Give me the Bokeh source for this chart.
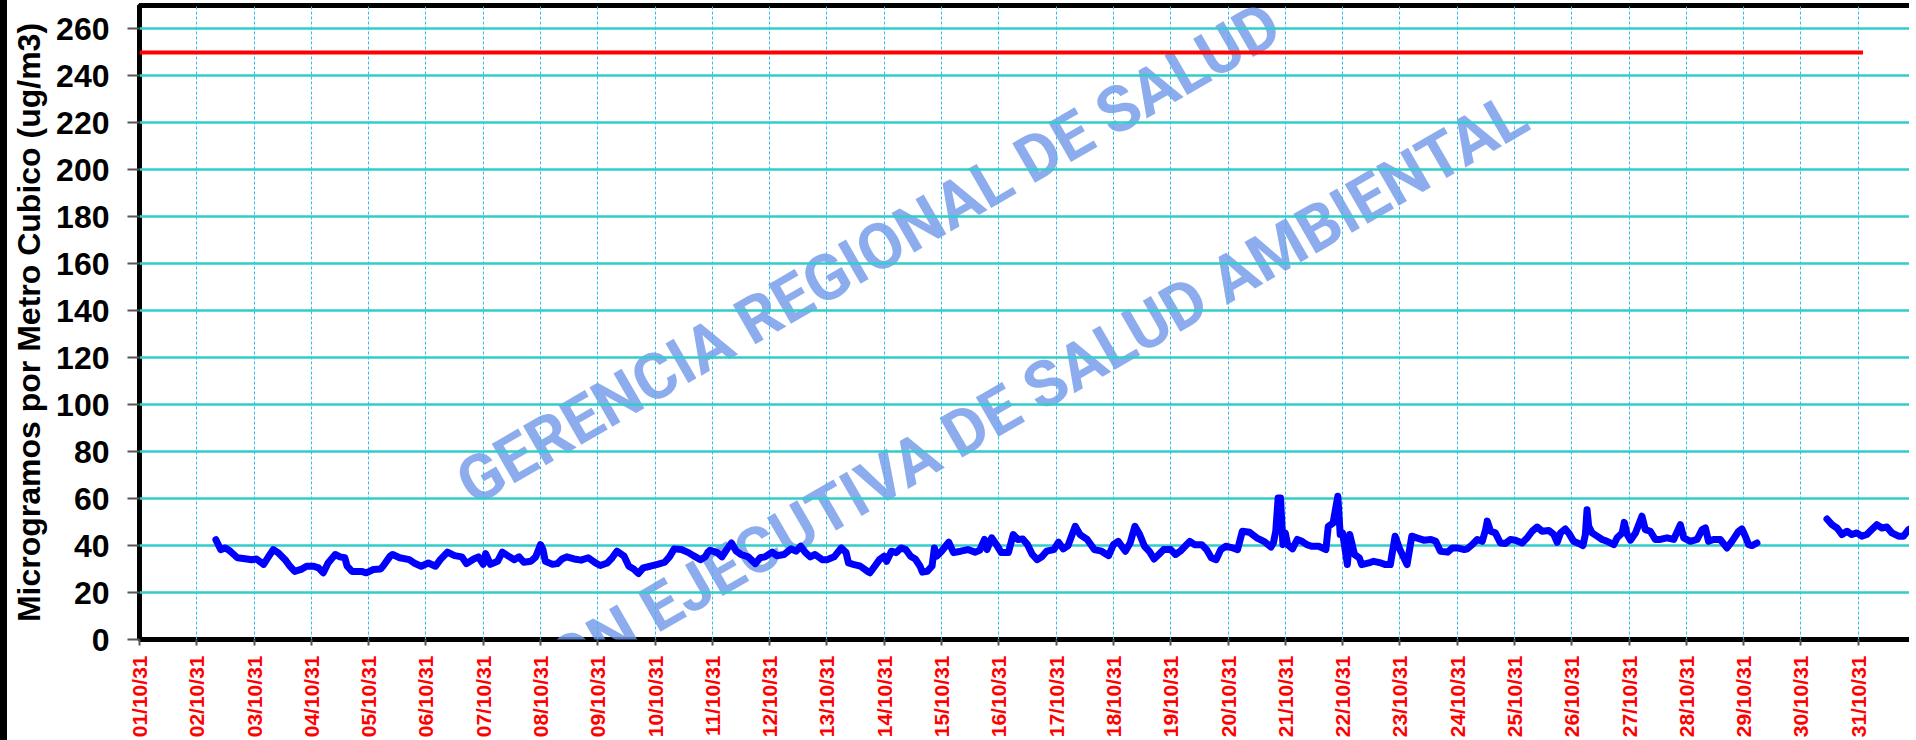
import math
from bokeh.plotting import figure
from bokeh.models import FixedTicker, Range1d, Label
from bokeh.embed import file_html
from bokeh.resources import INLINE

# ---------------- data ----------------
day_labels = ["%02d/10/31" % d for d in range(1, 32)]
y_ticks = [0, 20, 40, 60, 80, 100, 120, 140, 160, 180, 200, 220, 240, 260]
limit_value = 250
limit_hours = [0, 722]

# hours since 01/10/31 00:00, first segment
seg1_hours = [
    32, 34, 36, 38, 41, 45, 47, 49, 52, 54, 56, 58, 61, 63, 65, 68, 70, 73, 75, 77,
    79, 82, 84, 86, 87, 89, 93, 95, 98, 101, 102, 105, 106, 109, 113, 115, 118, 121,
    124, 126, 129, 132, 135, 137, 140, 142, 144, 145, 147, 150, 152, 155,
    157, 159, 161, 164, 166, 168, 169, 170, 173, 175, 177, 179, 182, 185, 188, 191,
    193, 196, 198, 200, 203, 205, 207, 209, 211, 214, 217, 220, 222, 224, 227, 230,
    232, 235, 237, 238, 239, 242, 244, 246, 248, 250, 252, 255, 258, 260, 262, 265,
    267, 270, 273, 275, 277, 279, 281, 283, 286,
    288, 291, 294, 296, 297, 299, 302, 305, 306, 308, 310, 312, 313, 315, 317, 319,
    321, 323, 325, 327, 328, 330, 332, 333, 334, 336, 339, 341, 344, 347, 350, 352,
    354, 355, 357, 359, 361, 364, 366, 368, 370, 372, 374, 376, 378, 380, 383, 385,
    387, 389, 392, 394, 397, 400, 403, 406, 408, 410, 413, 415, 417, 419,
    421, 423, 425, 427, 429, 432, 434, 436, 438, 440, 442, 445, 447, 449, 451, 453,
    455, 458, 460, 462, 465, 468, 471, 474, 475, 476, 477, 478, 479, 480, 481, 483,
    485, 487, 489, 491, 494, 497, 498, 500, 502, 503, 504, 506, 507, 509, 511, 512,
    515, 517, 520, 522, 524, 526, 528, 531, 533, 535, 538, 541, 543, 545, 548, 550,
    552, 555,
    556.2, 558.3, 560.4, 562.5, 563.9, 564.6, 566.0, 568.0, 570.1, 572.2, 574.3,
    576.4, 579.2, 581.3, 583.4, 585.5, 587.6, 590.4, 592.5, 593.9, 595.3, 597.3,
    598.7, 600.8, 602.9, 604.7, 605.7, 606.4, 607.1, 608.5, 610.6, 612.7, 614.8,
    617.6, 619.0, 621.1, 622.0, 623.2, 624.6, 626.7, 629.4, 630.8, 632.9, 635.0,
    637.1, 639.9, 642.7, 645.5, 646.9, 649.7, 652.5, 654.6, 656.0, 657.3, 659.4,
    662.2, 665.0, 667.1, 669.9, 671.3, 672.7, 674.1, 675.5, 677.6,
]
seg1_values = [
    42.5, 38.3, 39.0, 37.6, 34.8, 34.3, 34.0, 34.3, 32.0, 35.2, 38.3, 37.0, 34.0, 31.2, 29.0, 30.0, 31.2, 31.2, 30.5, 28.4,
    32.6, 36.2, 35.2, 34.8, 31.2, 29.0, 29.0, 28.4, 29.8, 30.0, 31.2, 35.5, 36.2, 34.8, 34.0, 32.6, 31.2, 32.6,
    31.2, 34.0, 37.2, 35.7, 35.2, 32.3, 34.3, 35.2, 32.0, 36.6, 32.0, 33.3, 37.2, 35.2,
    34.0, 35.2, 32.9, 33.3, 35.2, 40.4, 38.3, 33.3, 32.0, 32.3, 34.3, 35.2, 34.3, 33.8, 34.8, 32.6,
    31.5, 32.6, 34.8, 37.6, 35.5, 31.2, 30.0, 28.1, 30.5, 31.2, 32.0, 32.9, 35.2, 38.6, 38.3, 37.0,
    35.7, 34.0, 35.2, 37.0, 38.0, 37.0, 35.2, 38.3, 41.1, 37.6, 36.2, 35.2, 32.3, 34.8, 35.2, 37.2,
    35.7, 36.2, 38.6, 37.6, 39.7, 37.0, 35.2, 36.2, 34.0,
    34.0, 35.2, 39.0, 37.0, 32.6, 32.0, 31.2, 29.0, 28.4, 31.2, 34.0, 35.5, 33.3, 37.6, 37.0, 39.0,
    38.3, 35.5, 34.3, 31.2, 28.7, 29.0, 31.2, 39.0, 35.5, 37.6, 41.4, 37.0, 37.6, 38.3, 37.2, 38.0,
    42.6, 38.3, 43.3, 40.4, 37.0, 37.0, 44.7, 42.6, 42.8, 40.4, 36.2, 34.0, 35.2, 37.6, 38.3, 41.4,
    38.6, 40.0, 48.2, 44.7, 42.6, 38.3, 37.6, 35.7, 40.4, 41.8, 37.6, 41.1, 48.2, 44.7,
    39.7, 37.6, 34.3, 36.2, 38.3, 38.3, 36.2, 37.6, 39.7, 41.8, 40.4, 40.4, 38.3, 34.8, 34.0, 38.3,
    39.7, 39.0, 38.3, 46.1, 45.7, 43.3, 41.8, 39.4, 41.1, 46.1, 60.3, 60.3, 40.4, 45.4, 40.4, 38.6,
    42.6, 41.8, 40.4, 39.7, 39.7, 38.3, 48.2, 49.6, 61.0, 44.7, 45.4, 31.9, 44.7, 36.2, 34.8, 31.9,
    32.6, 33.3, 32.6, 31.9, 31.9, 44.0, 38.3, 31.9, 44.0, 43.3, 42.3, 42.6, 41.8, 37.6, 37.2, 39.0,
    39.0, 38.3,
    38.6, 40.4, 42.6, 41.8, 46.8, 50.4, 46.1, 45.4, 41.1, 40.9, 42.6,
    42.3, 41.1, 43.3, 46.1, 47.9, 46.1, 46.4, 44.7, 41.4, 45.4, 47.1,
    45.4, 41.8, 40.9, 40.0, 44.7, 55.3, 48.2, 45.4, 44.0, 42.6, 41.8,
    40.4, 43.3, 45.4, 49.9, 44.7, 42.3, 45.4, 52.5, 46.8, 46.1, 42.6,
    42.6, 43.3, 42.6, 48.9, 43.3, 41.8, 42.6, 46.8, 47.5, 41.8, 42.6,
    42.6, 39.0, 41.8, 46.1, 47.1, 44.0, 40.4, 40.0, 41.1,
]
# second segment (after the gap)
seg2_hours = [706.9, 709.0, 711.1, 713.2, 715.3, 717.3, 719.4, 721.5, 723.6, 725.7,
              727.8, 729.9, 732.0, 734.1, 736.9, 739.0, 741.1, 743.2]
seg2_values = [51.3, 48.9, 47.5, 44.7, 46.1, 44.7, 45.4, 44.0, 44.7, 46.8,
               48.9, 47.5, 47.9, 45.4, 44.0, 44.0, 46.8, 47.9]

watermark_texts = ["GERENCIA REGIONAL DE SALUD", "DIRECCION EJECUTIVA DE SALUD AMBIENTAL"]
y_title = "Microgramos por Metro Cubico (ug/m3)"

FONT = "Liberation Sans"

p = figure(width=1909, height=740, output_backend="svg", toolbar_location=None,
           x_range=Range1d(0, 744), y_range=Range1d(0, 270),
           min_border_left=132, min_border_right=1, min_border_top=5, min_border_bottom=100)
p.styles = {"border-left": "7px solid black"}

p.background_fill_color = "white"
p.border_fill_color = "white"
p.outline_line_color = "black"
p.outline_line_width = 5

# watermark
for txt, xx, yy, align in [(watermark_texts[0], 135.3, 64.3, "left"),
                           (watermark_texts[1], 578.9, 225.5, "right")]:
    p.add_layout(Label(x=xx, y=yy, text=txt, angle=0.5236, angle_units="rad",
                       text_font="Roboto", text_font_size="64px",
                       text_font_style="bold", text_color="#6F97E8", text_alpha=0.8,
                       text_align=align, text_baseline="alphabetic", level="image"))

# axes
xt = [24 * i for i in range(len(day_labels))]
p.xaxis.ticker = FixedTicker(ticks=xt)
p.xaxis.major_label_overrides = {t: l for t, l in zip(xt, day_labels)}
p.xaxis.major_label_orientation = math.pi / 2
p.xaxis.major_label_text_color = "#FF0000"
p.xaxis.major_label_text_font = FONT
p.xaxis.major_label_text_font_style = "bold"
p.xaxis.major_label_text_font_size = "21px"
p.xaxis.major_label_standoff = 10
p.xaxis.major_tick_out = 6
p.xaxis.major_tick_in = 0
p.xaxis.minor_tick_line_color = None
p.xaxis.axis_line_color = None
p.xaxis.major_tick_line_color = "#555555"
p.xaxis.major_tick_line_width = 2

p.yaxis.ticker = FixedTicker(ticks=y_ticks)
p.yaxis.major_label_text_font = FONT
p.yaxis.major_label_text_font_style = "bold"
p.yaxis.major_label_text_font_size = "32px"
p.yaxis.major_label_text_color = "black"
p.yaxis.major_label_standoff = 18
p.yaxis.major_tick_out = 12
p.yaxis.major_tick_in = 0
p.yaxis.minor_tick_line_color = None
p.yaxis.axis_line_color = None
p.yaxis.major_tick_line_color = "#555555"
p.yaxis.major_tick_line_width = 2
p.yaxis.axis_label = y_title
p.yaxis.axis_label_text_font = FONT
p.yaxis.axis_label_text_font_style = "bold"
p.yaxis.axis_label_text_font_size = "32px"
p.yaxis.axis_label_text_color = "black"
p.yaxis.axis_label_standoff = 6

# grids
p.ygrid.ticker = FixedTicker(ticks=y_ticks)
p.ygrid.grid_line_color = "#33CCCC"
p.ygrid.grid_line_width = 2.5
p.xgrid.ticker = FixedTicker(ticks=xt)
p.xgrid.grid_line_color = "#33BBEE"
p.xgrid.grid_line_width = 1
p.xgrid.grid_line_dash = "3 2"

# limit line
p.line(limit_hours, [limit_value] * len(limit_hours), line_color="#FF0000", line_width=4)

# series
for hx, vy in [(seg1_hours, seg1_values), (seg2_hours, seg2_values)]:
    p.line(hx, vy, line_color="#0000FF", line_width=7, line_join="round", line_cap="round")

open("out.html", "w").write(file_html(p, INLINE))
